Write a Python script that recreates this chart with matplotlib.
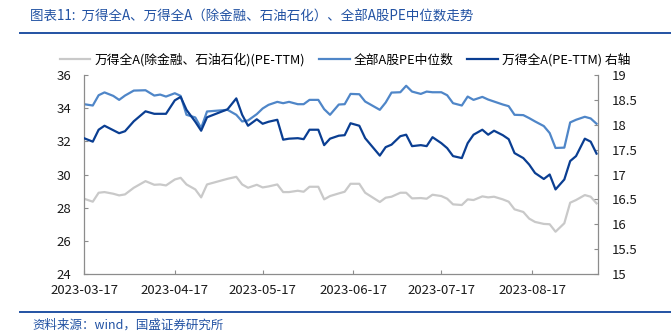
import matplotlib
matplotlib.use("Agg")
import matplotlib.pyplot as plt
import matplotlib.dates as mdates
from matplotlib.lines import Line2D
from matplotlib.ticker import FormatStrFormatter
import pandas as pd

plt.rcParams['font.family'] = ['Noto Sans CJK SC', 'DejaVu Sans']

# trading days (Mon/Wed/Fri sampling)
dates = pd.to_datetime([
    "2023-03-17", "2023-03-20", "2023-03-22", "2023-03-24", "2023-03-27", "2023-03-29", "2023-03-31",
    "2023-04-03", "2023-04-07", "2023-04-10", "2023-04-12", "2023-04-14", "2023-04-17", "2023-04-19",
    "2023-04-21", "2023-04-24", "2023-04-26", "2023-04-28",
    "2023-05-05", "2023-05-08", "2023-05-10", "2023-05-12", "2023-05-15", "2023-05-17", "2023-05-19",
    "2023-05-22", "2023-05-24", "2023-05-26", "2023-05-29", "2023-05-31",
    "2023-06-02", "2023-06-05", "2023-06-07", "2023-06-09", "2023-06-12", "2023-06-14", "2023-06-16",
    "2023-06-19", "2023-06-21", "2023-06-26", "2023-06-28", "2023-06-30",
    "2023-07-03", "2023-07-05", "2023-07-07", "2023-07-10", "2023-07-12", "2023-07-14", "2023-07-17",
    "2023-07-19", "2023-07-21", "2023-07-24", "2023-07-26", "2023-07-28", "2023-07-31",
    "2023-08-02", "2023-08-04", "2023-08-07", "2023-08-09", "2023-08-11", "2023-08-14", "2023-08-16",
    "2023-08-18", "2023-08-21", "2023-08-23", "2023-08-25", "2023-08-28", "2023-08-30",
    "2023-09-01", "2023-09-04", "2023-09-06", "2023-09-08",
])

# 万得全A(除金融、石油石化)(PE-TTM), left axis
pe_ex_fin = [
    28.54, 28.36, 28.90, 28.94, 28.84, 28.74, 28.80,
    29.20, 29.60, 29.38, 29.40, 29.34, 29.70, 29.80, 29.40, 29.10, 28.62, 29.40,
    29.74, 29.86, 29.40, 29.20, 29.38, 29.22, 29.28, 29.40, 28.94, 28.94, 29.02, 28.96,
    29.26, 29.26, 28.50, 28.70, 28.86, 28.96, 29.44, 29.44, 28.90, 28.34, 28.60, 28.66,
    28.90, 28.90, 28.56, 28.58, 28.54, 28.78, 28.70, 28.54, 28.20, 28.16, 28.50, 28.46, 28.68,
    28.62, 28.66, 28.50, 28.36, 27.90, 27.74, 27.34, 27.14, 27.02, 27.00, 26.55, 27.06, 28.30,
    28.46, 28.76, 28.66, 28.26,
]

# 全部A股PE中位数, left axis
pe_median = [
    34.24, 34.16, 34.78, 34.95, 34.74, 34.50, 34.76,
    35.06, 35.08, 34.76, 34.82, 34.70, 34.90, 34.74, 33.60, 33.44, 32.80, 33.80,
    33.90, 33.60, 33.20, 33.26, 33.64, 33.98, 34.20, 34.38, 34.30, 34.38, 34.24, 34.24,
    34.50, 34.50, 33.94, 33.60, 34.22, 34.24, 34.86, 34.84, 34.40, 33.90, 34.34, 34.94,
    34.96, 35.35, 35.00, 34.86, 35.00, 34.96, 34.96, 34.78, 34.30, 34.16, 34.70, 34.50, 34.68,
    34.52, 34.40, 34.22, 34.12, 33.60, 33.58, 33.40, 33.20, 32.92, 32.50, 31.60, 31.62, 33.14,
    33.30, 33.48, 33.38, 33.06,
]

# 万得全A(PE-TTM), right axis
pe_all_a = [
    17.73, 17.66, 17.90, 17.98, 17.89, 17.83, 17.87,
    18.07, 18.27, 18.22, 18.22, 18.22, 18.49, 18.56, 18.30, 18.06, 17.88, 18.15,
    18.31, 18.53, 18.20, 17.98, 18.11, 18.02, 18.06, 18.10, 17.70, 17.72, 17.73, 17.71,
    17.90, 17.90, 17.59, 17.72, 17.78, 17.79, 18.03, 17.98, 17.73, 17.38, 17.55, 17.60,
    17.77, 17.80, 17.57, 17.59, 17.57, 17.75, 17.63, 17.53, 17.37, 17.33, 17.63, 17.80, 17.90,
    17.80, 17.88, 17.79, 17.71, 17.43, 17.33, 17.20, 17.03, 16.91, 17.00, 16.70, 16.90, 17.27,
    17.37, 17.72, 17.66, 17.42,
]

labels = ["万得全A(除金融、石油石化)(PE-TTM)", "全部A股PE中位数", "万得全A(PE-TTM) 右轴"]
colors = ["#C9C9C9", "#4F86C8", "#0A3E92"]
tick_dates = pd.to_datetime(["2023-03-17", "2023-04-17", "2023-05-17",
                             "2023-06-17", "2023-07-17", "2023-08-17"])

title = "图表11:  万得全A、万得全A（除金融、石油石化）、全部A股PE中位数走势"
source = "资料来源：wind，国盛证券研究所"

fig = plt.figure(figsize=(6.71, 3.33), dpi=100)
ax = fig.add_axes([84 / 671, 1 - 274 / 333, (598 - 84) / 671, (274 - 75) / 333])
ax2 = ax.twinx()

l1, = ax.plot(dates, pe_ex_fin, color=colors[0], lw=1.6, label=labels[0])
l2, = ax.plot(dates, pe_median, color=colors[1], lw=1.6, label=labels[1])
l3, = ax2.plot(dates, pe_all_a, color=colors[2], lw=1.6, label=labels[2])

ax.set_ylim(24, 36)
ax.set_yticks(range(24, 37, 2))
ax2.set_ylim(15, 19)
ax2.set_yticks([15, 15.5, 16, 16.5, 17, 17.5, 18, 18.5, 19])
ax2.yaxis.set_major_formatter(FormatStrFormatter('%g'))

ax.set_xlim(pd.Timestamp("2023-03-17"), pd.Timestamp("2023-09-08 12:00"))
ax.set_xticks(tick_dates)
ax.xaxis.set_major_formatter(mdates.DateFormatter('%Y-%m-%d'))

spine_c = "#8C8C8C"
for a in (ax, ax2):
    a.spines['top'].set_visible(False)
    for s in ('left', 'right', 'bottom'):
        a.spines[s].set_color(spine_c)
        a.spines[s].set_linewidth(0.9)
ax.spines['right'].set_visible(False)
ax2.spines['left'].set_visible(False)
ax2.spines['bottom'].set_visible(False)

ax.tick_params(axis='both', direction='in', length=3, color=spine_c,
               labelsize=9.5, labelcolor='#1A1A1A')
ax.tick_params(axis='y', pad=9)
ax.tick_params(axis='x', pad=7)
ax2.tick_params(axis='y', direction='in', length=3, color=spine_c,
                labelsize=9.5, labelcolor='#1A1A1A', pad=10)

fig.legend(handles=[l1, l2, l3], loc='center', ncol=3, frameon=False,
           bbox_to_anchor=(345 / 671, 1 - 60 / 333), fontsize=9.2,
           handlelength=2.4, handletextpad=0.3, columnspacing=1.1)

blue = "#2252A3"
fig.text(30 / 671, 1 - 17 / 333, title, ha='left', va='center', fontsize=9.7,
         color=blue, style='italic')
fig.text(32 / 671, 1 - 325 / 333, source, ha='left', va='center', fontsize=9,
         color=blue, style='italic')
fig.add_artist(Line2D([20 / 671, 1], [1 - 33 / 333] * 2, transform=fig.transFigure,
                      color=blue, lw=1.4))
fig.add_artist(Line2D([20 / 671, 1], [1 - 312 / 333] * 2, transform=fig.transFigure,
                      color=blue, lw=1.4))

fig.savefig("out.png", dpi=100)
